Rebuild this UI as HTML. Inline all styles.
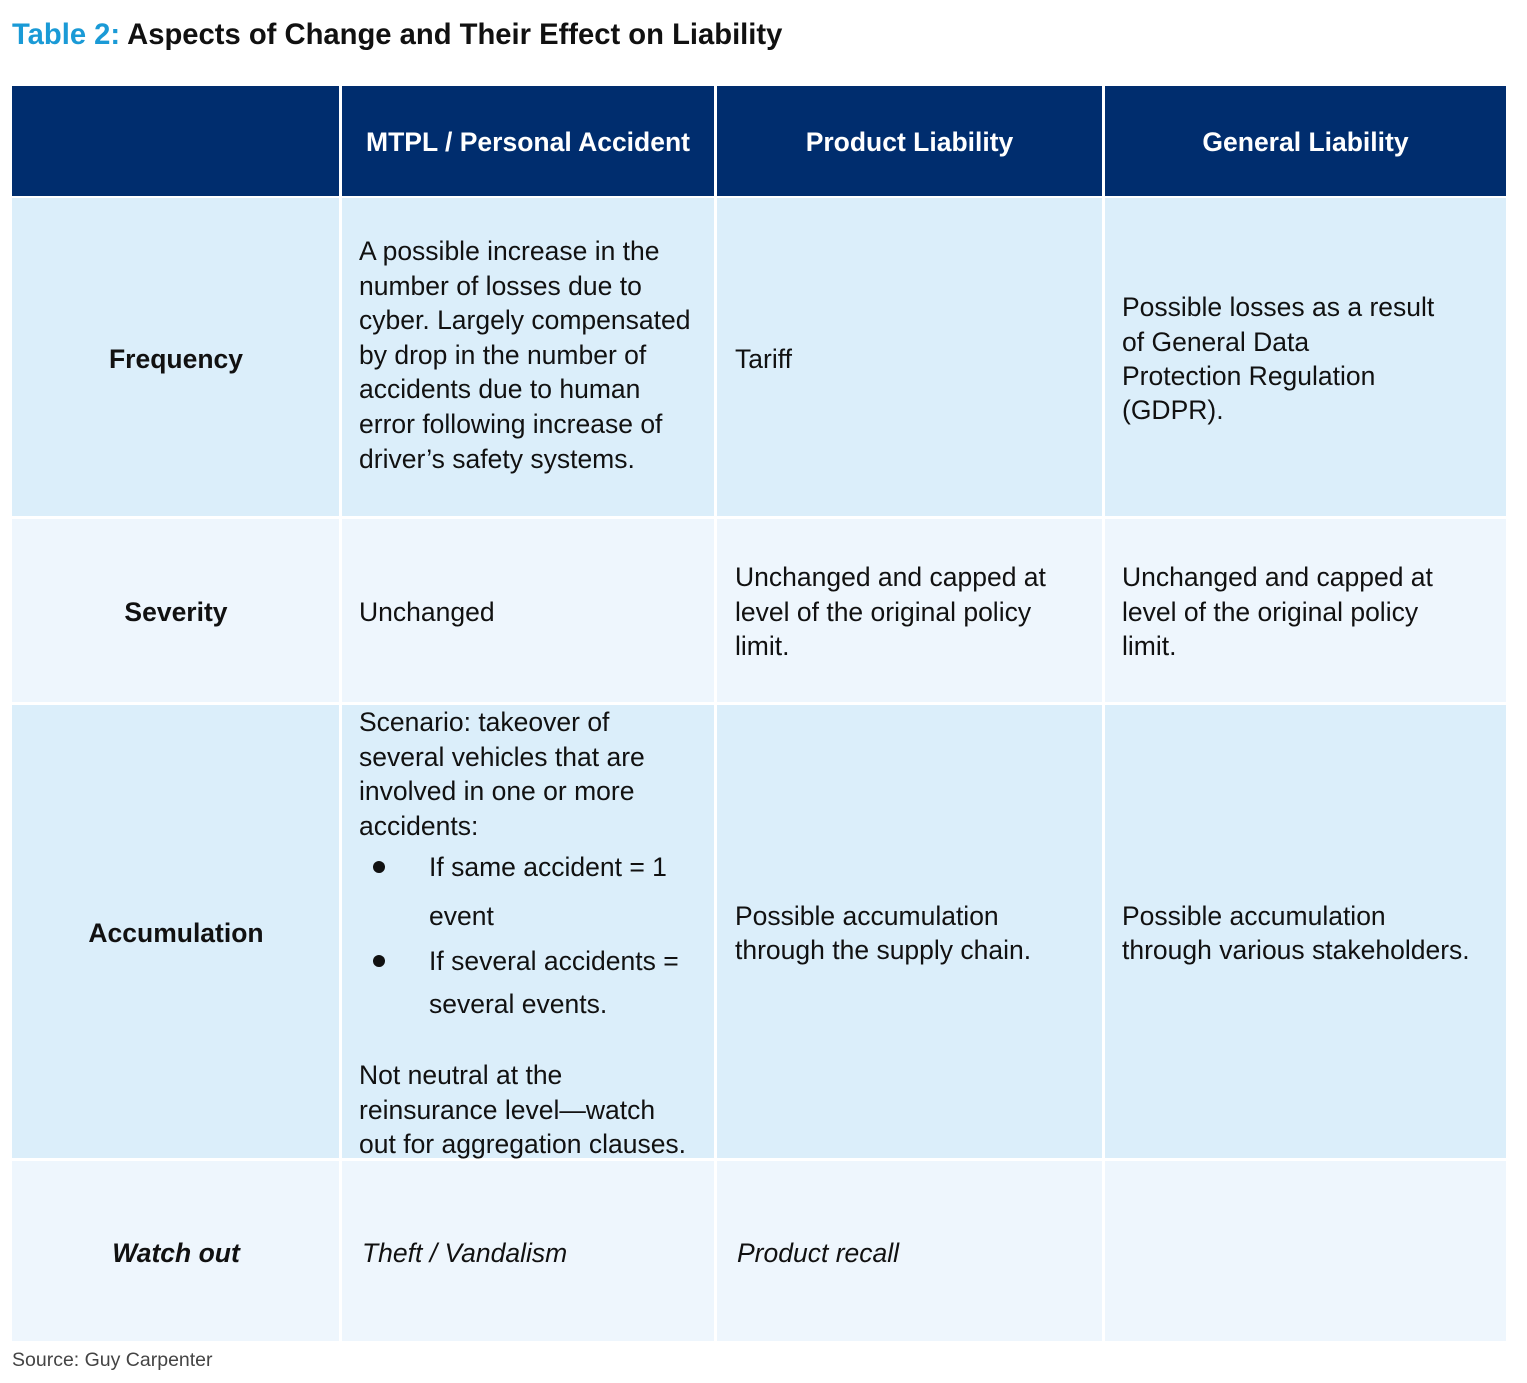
<!DOCTYPE html>
<html><head><meta charset="utf-8"><style>
body{margin:0;width:1527px;height:1383px;background:#fff;position:relative;overflow:hidden;font-family:"Liberation Sans",sans-serif;color:#111}
.c{position:absolute}
.h{background:#002d6e}
.r1{background:#dbeefa}
.r2{background:#eef6fd}
.t{position:absolute;font-size:26.5px;line-height:34px;white-space:nowrap}
.b{font-weight:bold}
.hd{position:absolute;color:#fff;font-weight:bold;font-size:26.5px;line-height:34px;top:125px;text-align:center;white-space:nowrap}
.lab{position:absolute;left:12px;width:328px;text-align:center;font-weight:bold;font-size:26.5px;line-height:34px}
.dot{position:absolute;width:12px;height:12px;border-radius:50%;background:#111}
</style></head><body>
<div class="t b" style="left:12px;top:17px;font-size:29.2px;line-height:36px"><span style="color:#1a9ad6">Table 2:</span> Aspects of Change and Their Effect on Liability</div>

<div class="c h" style="left:12px;top:86px;width:327px;height:110px"></div>
<div class="c h" style="left:342px;top:86px;width:372px;height:110px"></div>
<div class="c h" style="left:717px;top:86px;width:385px;height:110px"></div>
<div class="c h" style="left:1105px;top:86px;width:401px;height:110px"></div>
<div class="hd" style="left:342px;width:372px">MTPL / Personal Accident</div>
<div class="hd" style="left:717px;width:385px">Product Liability</div>
<div class="hd" style="left:1105px;width:401px">General Liability</div>

<div class="c r1" style="left:12px;top:198px;width:327px;height:318px"></div>
<div class="c r1" style="left:342px;top:198px;width:372px;height:318px"></div>
<div class="c r1" style="left:717px;top:198px;width:385px;height:318px"></div>
<div class="c r1" style="left:1105px;top:198px;width:401px;height:318px"></div>

<div class="c r2" style="left:12px;top:519px;width:327px;height:183px"></div>
<div class="c r2" style="left:342px;top:519px;width:372px;height:183px"></div>
<div class="c r2" style="left:717px;top:519px;width:385px;height:183px"></div>
<div class="c r2" style="left:1105px;top:519px;width:401px;height:183px"></div>

<div class="c r1" style="left:12px;top:705px;width:327px;height:453px"></div>
<div class="c r1" style="left:342px;top:705px;width:372px;height:453px"></div>
<div class="c r1" style="left:717px;top:705px;width:385px;height:453px"></div>
<div class="c r1" style="left:1105px;top:705px;width:401px;height:453px"></div>

<div class="c r2" style="left:12px;top:1161px;width:327px;height:180px"></div>
<div class="c r2" style="left:342px;top:1161px;width:372px;height:180px"></div>
<div class="c r2" style="left:717px;top:1161px;width:385px;height:180px"></div>
<div class="c r2" style="left:1105px;top:1161px;width:401px;height:180px"></div>

<div class="lab" style="top:342px">Frequency</div>
<div class="lab" style="top:595px">Severity</div>
<div class="lab" style="top:916px">Accumulation</div>
<div class="lab" style="top:1236px;font-style:italic">Watch out</div>

<div class="t" style="left:359px;top:234px">A possible increase in the</div>
<div class="t" style="left:359px;top:269px">number of losses due to</div>
<div class="t" style="left:359px;top:303px">cyber. Largely compensated</div>
<div class="t" style="left:359px;top:338px">by drop in the number of</div>
<div class="t" style="left:359px;top:372px">accidents due to human</div>
<div class="t" style="left:359px;top:407px">error following increase of</div>
<div class="t" style="left:359px;top:442px">driver’s safety systems.</div>
<div class="t" style="left:735px;top:342px">Tariff</div>
<div class="t" style="left:1122px;top:290px">Possible losses as a result</div>
<div class="t" style="left:1122px;top:325px">of General Data</div>
<div class="t" style="left:1122px;top:359px">Protection Regulation</div>
<div class="t" style="left:1122px;top:393px">(GDPR).</div>

<div class="t" style="left:359px;top:595px">Unchanged</div>
<div class="t" style="left:735px;top:560px">Unchanged and capped at</div>
<div class="t" style="left:735px;top:595px">level of the original policy</div>
<div class="t" style="left:735px;top:629px">limit.</div>
<div class="t" style="left:1122px;top:560px">Unchanged and capped at</div>
<div class="t" style="left:1122px;top:595px">level of the original policy</div>
<div class="t" style="left:1122px;top:629px">limit.</div>

<div class="t" style="left:359px;top:705px">Scenario: takeover of</div>
<div class="t" style="left:359px;top:740px">several vehicles that are</div>
<div class="t" style="left:359px;top:774px">involved in one or more</div>
<div class="t" style="left:359px;top:809px">accidents:</div>
<div class="dot" style="left:373px;top:861px"></div>
<div class="t" style="left:429px;top:850px">If same accident = 1</div>
<div class="t" style="left:429px;top:899px">event</div>
<div class="dot" style="left:373px;top:955px"></div>
<div class="t" style="left:429px;top:944px">If several accidents =</div>
<div class="t" style="left:429px;top:987px">several events.</div>
<div class="t" style="left:359px;top:1058px">Not neutral at the</div>
<div class="t" style="left:359px;top:1093px">reinsurance level—watch</div>
<div class="t" style="left:359px;top:1127px">out for aggregation clauses.</div>
<div class="t" style="left:735px;top:899px">Possible accumulation</div>
<div class="t" style="left:735px;top:933px">through the supply chain.</div>
<div class="t" style="left:1122px;top:899px">Possible accumulation</div>
<div class="t" style="left:1122px;top:933px">through various stakeholders.</div>

<div class="t" style="left:362px;top:1236px;font-style:italic">Theft / Vandalism</div>
<div class="t" style="left:737px;top:1236px;font-style:italic">Product recall</div>

<div class="t" style="left:12px;top:1349px;font-size:19.5px;line-height:22px;color:#444">Source: Guy Carpenter</div>
</body></html>
